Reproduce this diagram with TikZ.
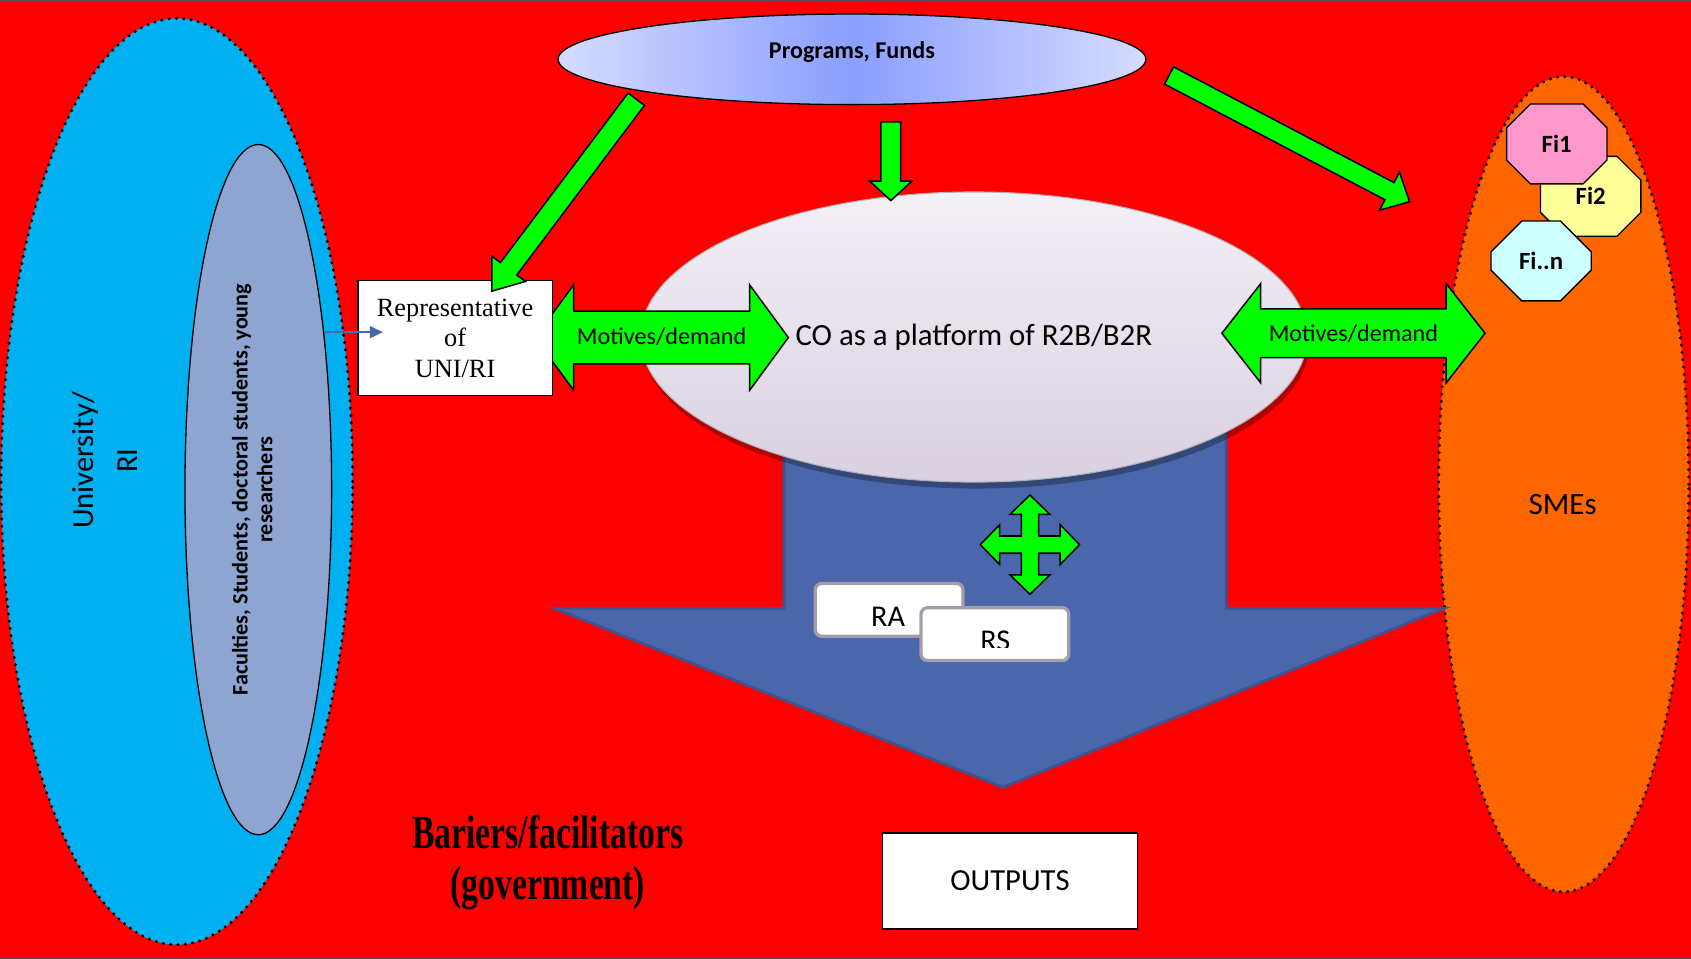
\documentclass[tikz,border=0pt]{standalone}
\usepackage{fontspec}
\setmainfont{Carlito}
\newfontfamily\tnr{Liberation Serif}
\newfontfamily\tnrcond[FakeStretch=0.71]{Liberation Serif}
\usetikzlibrary{shapes.geometric,shapes.misc,calc,arrows.meta,shadows}
\definecolor{bgred}{HTML}{FF0000}
\definecolor{unicyan}{HTML}{00B0F0}
\definecolor{facblue}{HTML}{8FA5D1}
\definecolor{smeorange}{HTML}{FF6600}
\definecolor{agreen}{HTML}{00FF00}
\definecolor{bigblue}{HTML}{4A67AC}
\definecolor{bigblueedge}{HTML}{3C5592}
\definecolor{pfcenter}{HTML}{8A9EFF}
\definecolor{pfedge}{HTML}{D6DCFF}
\definecolor{cotop}{HTML}{F3F0F6}
\definecolor{cobot}{HTML}{D9D0E1}
\definecolor{fione}{HTML}{FF99CC}
\definecolor{fitwo}{HTML}{FFFF99}
\definecolor{fin}{HTML}{CCFFFF}
\definecolor{rgray}{HTML}{A39DAB}
\definecolor{framegray}{HTML}{505050}

% block arrow: #1 tail, #2 tip, #3 shaft half width, #4 head half width, #5 head length
\newcommand\blockarrow[5]{%
  \path ($(#2)!#5!(#1)$) coordinate (hb);
  \draw[garrow] ($(#1)!#3!90:(#2)$) -- ($(hb)!#3!90:(#2)$) -- ($(hb)!#4!90:(#2)$) -- (#2)
    -- ($(hb)!#4!-90:(#2)$) -- ($(hb)!#3!-90:(#2)$) -- ($(#1)!#3!-90:(#2)$) -- cycle;}
% double arrow: #1 left tip, #2 right tip, #3 shaft half, #4 head half, #5 head length
\newcommand\dblarrow[5]{%
  \path ($(#1)!#5!(#2)$) coordinate (hl) ($(#2)!#5!(#1)$) coordinate (hr);
  \draw[garrow] (#1) -- ($(hl)!#4!90:(#2)$) -- ($(hl)!#3!90:(#2)$) -- ($(hr)!#3!-90:(#1)$)
    -- ($(hr)!#4!-90:(#1)$) -- (#2) -- ($(hr)!#4!90:(#1)$) -- ($(hr)!#3!90:(#1)$)
    -- ($(hl)!#3!-90:(#2)$) -- ($(hl)!#4!-90:(#2)$) -- cycle;}

\begin{document}
\begin{tikzpicture}[x=0.5pt,y=-0.5pt,
  dottedborder/.style={draw=black, line width=1.6pt, dash pattern=on 0pt off 3.4pt, line cap=round},
  garrow/.style={fill=agreen, draw=black, line width=0.7pt, line join=miter},
  oct/.style={chamfered rectangle, chamfered rectangle xsep=9pt, chamfered rectangle ysep=10.5pt,
    draw=black, line width=0.6pt, minimum width=46.5pt, minimum height=37pt, inner sep=0pt,
    font=\bfseries\fontsize{11.5}{13}\selectfont},
  rbox/.style={draw=rgray, line width=1.5pt, fill=white, rounded corners=3pt,
    minimum width=68.5pt, minimum height=24.5pt, inner sep=0pt},
  wbox/.style={draw=black, line width=0.6pt, fill=white, inner sep=0pt}]
\useasboundingbox (0,0) rectangle (1568,889.2);
\fill[bgred] (0,0) rectangle (1568,889.2);

% University / RI
\node[ellipse, fill=unicyan, dottedborder, minimum width=163pt, minimum height=429.5pt, inner sep=0pt] (uni) at (164,446.5) {};
\node[ellipse, fill=facblue, draw=black, line width=0.6pt, minimum width=68pt, minimum height=320pt, inner sep=0pt] (fac) at (239.5,454) {};
\node[rotate=90, align=center, font=\fontsize{14.2}{20.5}\selectfont] (unitext) at (97,427) {University/\\RI};
\node[rotate=90, align=center, font=\bfseries\fontsize{10.3}{11.5}\selectfont] (factext) at (234,454) {Faculties, Students, doctoral students, young\\researchers};

% SMEs
\node[ellipse, fill=smeorange, dottedborder, minimum width=116pt, minimum height=378pt, inner sep=0pt] (sme) at (1450,449) {};
\node[font=\fontsize{14.4}{17}\selectfont] (smetext) at (1449,468) {SMEs};
\node[oct, fill=fitwo] (fi2) at (1475,182) {Fi2};
\node[oct, fill=fione] (fi1) at (1443.5,133.5) {Fi1};
\node[oct, fill=fin] (fin) at (1429,242) {Fi..n};

% big blue down arrow
\draw[fill=bigblue, draw=bigblueedge, line width=1.3pt, line join=miter]
  (727,400) -- (727,564) -- (514,564) -- (930,730) -- (1339,564) -- (1137,564) -- (1137,400) -- cycle;

% CO platform
\node[ellipse, draw=gray!60, line width=0.5pt, top color=cotop, bottom color=cobot,
  drop shadow={shadow xshift=1pt, shadow yshift=-3pt, opacity=0.3, fill=black},
  minimum width=309pt, minimum height=134.5pt, inner sep=0pt,
  font=\fontsize{14.3}{17}\selectfont] (co) at (903,312.5) {CO as a platform of R2B/B2R};

% Programs, Funds
\node[ellipse, draw=black, line width=0.6pt, left color=pfedge, right color=pfedge, middle color=pfcenter,
  minimum width=272.5pt, minimum height=42pt, inner sep=0pt] (pf) at (790,55) {};
\node[font=\bfseries\fontsize{11.2}{13}\selectfont] (pftext) at (790,48) {Programs, Funds};

% green arrows from Programs
\coordinate (a2s) at (826,113); \coordinate (a2e) at (826,186);
\blockarrow{a2s}{a2e}{4.6pt}{9.75pt}{9pt}
\coordinate (a3s) at (1084,70); \coordinate (a3e) at (1307,187);
\blockarrow{a3s}{a3e}{4.5pt}{10pt}{10.5pt}

% Motives/demand left
\coordinate (m1l) at (496,313); \coordinate (m1r) at (731,313);
\dblarrow{m1l}{m1r}{12.25pt}{24.5pt}{18pt}
\node[font=\fontsize{11.2}{13}\selectfont] (m1text) at (613.5,312) {Motives/demand};

% Representative box
\node[wbox, minimum width=90pt, minimum height=53.5pt, align=center,
  font=\tnr\fontsize{12.2}{14.2}\selectfont] (rep) at (422,313.5) {Representative\\of\\UNI/RI};

\coordinate (a1s) at (590,92); \coordinate (a1e) at (456,270);
\blockarrow{a1s}{a1e}{4.75pt}{9.75pt}{13pt}

% small arrow from faculties to representative
\coordinate (sb1) at (301,308); \coordinate (sb2) at (355,308);
\draw[draw=bigblue, line width=0.9pt, -{Triangle[length=6pt,width=5.5pt]}] (sb1) -- (sb2);

% Motives/demand right
\coordinate (m2l) at (1133,309); \coordinate (m2r) at (1377,309);
\dblarrow{m2l}{m2r}{11.25pt}{23pt}{18pt}
\node[font=\fontsize{11.2}{13}\selectfont] (m2text) at (1255,309) {Motives/demand};

% four-way arrow
\coordinate (c4) at (955,505);
\begin{scope}[shift={(c4)}, x=1pt, y=1pt]
\draw[garrow] (4,4) -- (4,14) -- (9.25,14) -- (0,23) -- (-9.25,14) -- (-4,14) -- (-4,4)
  -- (-14,4) -- (-14,9.25) -- (-23,0) -- (-14,-9.25) -- (-14,-4) -- (-4,-4)
  -- (-4,-14) -- (-9.25,-14) -- (0,-23) -- (9.25,-14) -- (4,-14) -- (4,-4)
  -- (14,-4) -- (14,-9.25) -- (23,0) -- (14,9.25) -- (14,4) -- cycle;
\end{scope}

% RA / RS
\node[rbox] (ra) at (824.5,565.5) {};
\node[anchor=base, font=\fontsize{14}{16}\selectfont, inner sep=0pt] (ratext) at (823.5,581) {RA};
\node[rbox] (rs) at (922.5,588) {};
\begin{scope}
\clip (854,545) rectangle (991,600);
\node[anchor=base, font=\fontsize{14}{16}\selectfont, inner sep=0pt] (rstext) at (923,603) {RS};
\end{scope}

% OUTPUTS
\node[wbox, minimum width=118.5pt, minimum height=44.5pt, font=\fontsize{14.2}{17}\selectfont] (out) at (936.5,817) {OUTPUTS};

% Bariers/facilitators
\node[align=center, font=\tnrcond\bfseries\fontsize{22}{23.75}\selectfont] (bar) at (508,800) {Bariers/facilitators\\(government)};

% frame lines
\draw[framegray, line width=0.8pt] (0,0.8) -- (1568,0.8);
\draw[framegray, line width=0.8pt] (0,888.4) -- (1568,888.4);
\end{tikzpicture}
\end{document}
